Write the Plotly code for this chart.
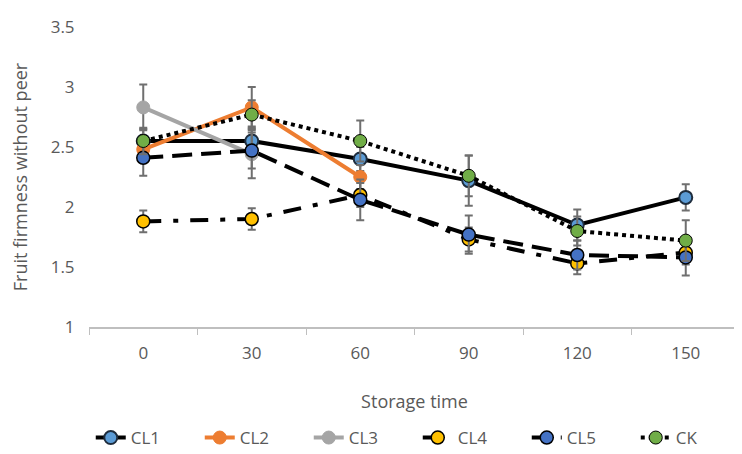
import plotly.graph_objects as go

categories = ["0", "30", "60", "90", "120", "150"]

cl1 = [2.55, 2.55, 2.40, 2.22, 1.85, 2.08]
cl1_err = [0.10, 0.12, 0.10, 0.21, 0.13, 0.11]
cl2 = [2.48, 2.83, 2.25]
cl2_err = [0.10, 0.17, 0.10]
cl3 = [2.83, 2.44]
cl3_err = [0.19, 0.20]
cl4 = [1.88, 1.90, 2.10, 1.73, 1.53, 1.62]
cl4_err = [0.09, 0.09, 0.10, 0.10, 0.09, 0.10]
cl5 = [2.41, 2.47, 2.06, 1.77, 1.60, 1.58]
cl5_err = [0.15, 0.15, 0.17, 0.16, 0.12, 0.15]
ck = [2.55, 2.77, 2.55, 2.26, 1.80, 1.72]
ck_err = [0.11, 0.12, 0.17, 0.17, 0.12, 0.17]

series = [
    ("CL1", cl1, cl1_err, dict(color="black", width=4, dash="solid"),
     dict(color="#5B9BD5", size=13, line=dict(color="#1f2d3d", width=2))),
    ("CL2", cl2, cl2_err, dict(color="#ED7D31", width=4, dash="solid"),
     dict(color="#ED7D31", size=13, line=dict(color="#ED7D31", width=1))),
    ("CL3", cl3, cl3_err, dict(color="#A5A5A5", width=4, dash="solid"),
     dict(color="#A5A5A5", size=13, line=dict(color="#A5A5A5", width=1))),
    ("CL4", cl4, cl4_err, dict(color="black", width=4, dash="18px,12px,5px,12px"),
     dict(color="#FFC000", size=13, line=dict(color="black", width=1.5))),
    ("CL5", cl5, cl5_err, dict(color="black", width=4, dash="20px,9px"),
     dict(color="#4472C4", size=13, line=dict(color="black", width=1.5))),
    ("CK", ck, ck_err, dict(color="black", width=4, dash="dot"),
     dict(color="#70AD47", size=13, line=dict(color="black", width=1))),
]

fig = go.Figure()
for name, vals, errs, line, marker in series:
    fig.add_trace(go.Scatter(
        x=categories[:len(vals)], y=vals, name=name, mode="lines+markers",
        line=line, marker=marker,
        error_y=dict(type="data", array=errs, visible=True,
                     color="#6f6f6f", thickness=2, width=4),
    ))

font_color = "#595959"
fig.update_layout(
    width=734, height=446,
    margin=dict(l=81, r=2, t=19, b=127, autoexpand=False),
    paper_bgcolor="white", plot_bgcolor="white",
    font=dict(family="Open Sans", size=16, color=font_color),
    showlegend=True,
    legend=dict(orientation="h", x=0.505, xanchor="center", y=-0.37, yanchor="middle",
                font=dict(size=17, color=font_color),
                entrywidth=64, entrywidthmode="pixels",
                tracegroupgap=0, itemclick=False),
    xaxis=dict(type="category", categoryorder="array", categoryarray=categories,
               range=[-0.5, 5.5], showgrid=False, showline=True, automargin=False,
               linecolor="#bfbfbf", linewidth=1.5, ticks="outside",
               tickson="boundaries", ticklen=6, tickcolor="#bfbfbf",
               ticklabelstandoff=10,
               tickfont=dict(size=17, color=font_color), zeroline=False,
               title=dict(text="Storage time", font=dict(size=18, color=font_color), standoff=32)),
    yaxis=dict(range=[1, 3.5], dtick=0.5, showgrid=False, showline=False, automargin=False,
               zeroline=False, ticks="outside", ticklen=10, tickcolor="rgba(0,0,0,0)",
               tickformat="~g",
               tickfont=dict(size=17, color=font_color),
               title=dict(text="Fruit firmness without peer",
                          font=dict(size=18, color=font_color), standoff=20)),
)

fig.write_html("out.html")
